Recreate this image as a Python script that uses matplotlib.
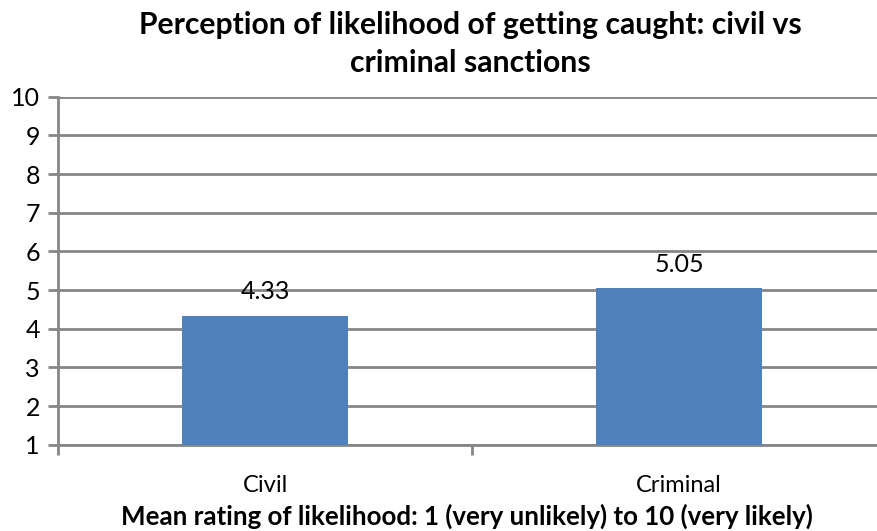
import matplotlib
matplotlib.use("Agg")
import matplotlib.pyplot as plt

categories = ["Civil", "Criminal"]
values = [4.33, 5.05]
value_labels = ["4.33", "5.05"]
y_ticks = [1, 2, 3, 4, 5, 6, 7, 8, 9, 10]

title = "Perception of likelihood of getting caught: civil vs\ncriminal sanctions"
x_title = "Mean rating of likelihood: 1 (very unlikely) to 10 (very likely)"

plt.rcParams["font.family"] = ["Lato", "DejaVu Sans"]

fig = plt.figure(figsize=(8.77, 5.31), dpi=100)
W, H = 877, 531
left, right, top, bottom = 58, 886, 96.7, 444.7
ax = fig.add_axes([left / W, 1 - bottom / H, (right - left) / W, (bottom - top) / H])
ax.set_facecolor("white")

grid_c = "#868686"
bar_c = "#4F81BD"

x = list(range(len(categories)))
ax.bar(x, [v - 1 for v in values], bottom=1, width=0.4, color=bar_c, zorder=3)
for xi, v, lab in zip(x, values, value_labels):
    ax.annotate(lab, (xi, v), xytext=(0, 9), textcoords="offset points",
                ha="center", va="bottom", fontsize=18, color="black")

ax.set_xlim(-0.5, len(categories) - 0.5)
ax.set_ylim(1, 10)
ax.set_yticks(y_ticks)
ax.set_yticklabels([str(t) for t in y_ticks], fontsize=18)
ax.yaxis.grid(True, color=grid_c, linewidth=2, zorder=0)
ax.set_axisbelow(True)

# category boundary ticks on the x axis, labels centered between them
ax.set_xticks([i - 0.5 for i in range(len(categories) + 1)])
ax.set_xticklabels([])
ax.set_xticks(x, minor=True)
ax.set_xticklabels(categories, minor=True, fontsize=17)
ax.tick_params(axis="x", which="minor", length=0, pad=22)
ax.tick_params(axis="x", which="major", length=7, width=2, color=grid_c, direction="out")
ax.tick_params(axis="y", length=7, width=2, color=grid_c, direction="out", pad=6)

for s in ["top", "right"]:
    ax.spines[s].set_visible(False)
ax.spines["left"].set_color(grid_c)
ax.spines["left"].set_linewidth(2)
ax.spines["bottom"].set_color(grid_c)
ax.spines["bottom"].set_linewidth(2)

fig.text(470 / W, 1 - 44 / H, title, ha="center", va="center", fontsize=21.7,
         fontweight="bold", linespacing=1.45)
fig.text(467 / W, 1 - 516 / H, x_title, ha="center", va="center", fontsize=18.6,
         fontweight="bold")

fig.savefig("out.png", dpi=100, facecolor="white")
